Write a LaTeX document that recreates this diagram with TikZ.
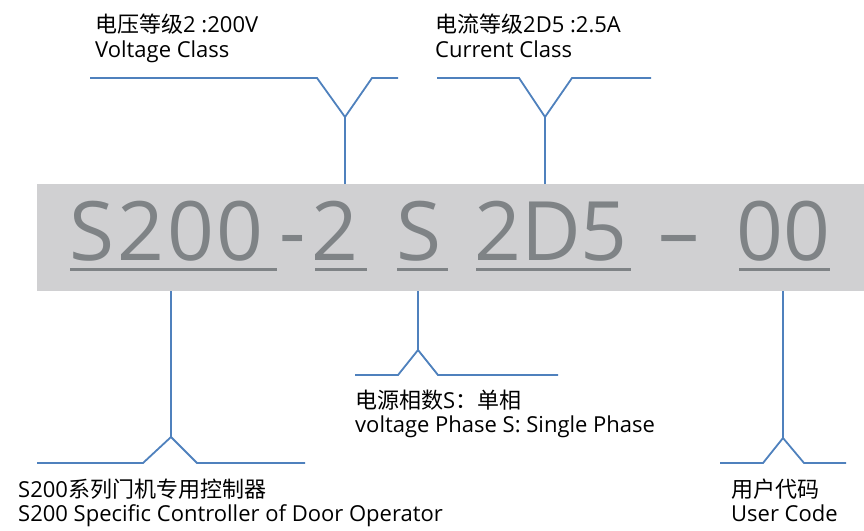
\documentclass[tikz,border=0pt]{standalone}
\usepackage{fontspec}
\setmainfont{Open Sans}
\newfontfamily\cjk{Noto Sans CJK SC}
\definecolor{leadblue}{RGB}{79,129,189}
\definecolor{codegray}{RGB}{127,131,134}
\definecolor{boxgray}{RGB}{208,208,210}

\begin{document}
\begin{tikzpicture}[x=1pt, y=-1pt,
    lead/.style={draw=leadblue, line width=1.8pt},
    code/.style={anchor=base west, inner sep=0pt, text=codegray, font=\fontsize{82}{82}\selectfont},
    uline/.style={draw=codegray, line width=3pt},
    note/.style={anchor=base west, inner sep=0pt, font=\fontsize{22}{24}\selectfont}]

                            \useasboundingbox (0,0) rectangle (864,530);

                            % model code
                            \node (box) [fill=boxgray, inner sep=0pt, anchor=north west,
                                minimum width=827pt, minimum height=107pt] at (37,184) {};
                            \node (series) [code] at (69,260) {S\kern3pt2\kern3pt0\kern3pt0};
                            \node (dash1) [code] at (279,260) {-};
                            \node (volt) [code] at (311,260) {2};
                            \node (phase) [code] at (396,260) {S};
                            \node (amp) [code] at (474,260) {2D5};
                            \node (dash2) [code] at (659,260) {\kern-1pt–\kern1pt};
                            \node (user) [code] at (736,260) {00};

                            \draw[uline] (70,269) -- (277,269);
                            \draw[uline] (315,269) -- (367,269);
                            \draw[uline] (397,269) -- (448,269);
                            \draw[uline] (476,269) -- (631,269);
                            \draw[uline] (739,269) -- (830,269);

                            % forks
                            \coordinate (fvolt) at (345,117);
                            \coordinate (famp) at (545,117);
                            \coordinate (fseries) at (171,437);
                            \coordinate (fphase) at (418,350);
                            \coordinate (fuser) at (783,438);

                            \draw[lead] (box.north -| fvolt) -- (fvolt);
                            \draw[lead] (90,78) -- (317,78) -- (fvolt) -- (372,78) -- (398,78);
                            \draw[lead] (box.north -| famp) -- (famp);
                            \draw[lead] (437,78) -- (519,78) -- (famp) -- (572,78) -- (651,78);
                            \draw[lead] (box.south -| fseries) -- (fseries);
                            \draw[lead] (37,463) -- (143,463) -- (fseries) -- (197,463) -- (305,463);
                            \draw[lead] (box.south -| fphase) -- (fphase);
                            \draw[lead] (355,375) -- (398,375) -- (fphase) -- (438,375) -- (558,375);
                            \draw[lead] (box.south -| fuser) -- (fuser);
                            \draw[lead] (720,463) -- (763,463) -- (fuser) -- (804,463) -- (846,463);

                            % notes
                            \node (volt-cn) [note] at (95,32) {{\cjk 电压等级}2 :200V};
                            \node (volt-en) [note] at (95,57) {Voltage Class};
                            \node (amp-cn) [note] at (435,32) {{\cjk 电流等级}2D5 :2.5A};
                            \node (amp-en) [note] at (435,57) {Current Class};
                            \node (phase-cn) [note] at (355,408) {{\cjk 电源相数}S{\cjk ：单相}};
                            \node (phase-en) [note] at (355,432) {voltage Phase S: Single Phase};
                            \node (series-cn) [note] at (18,497) {S200{\cjk 系列门机专用控制器}};
                            \node (series-en) [note] at (18,521) {S200 Specific Controller of Door Operator};
                            \node (user-cn) [note] at (731,497) {\cjk 用户代码};
                            \node (user-en) [note] at (731,521) {User Code};
                        \end{tikzpicture}
\end{document}
